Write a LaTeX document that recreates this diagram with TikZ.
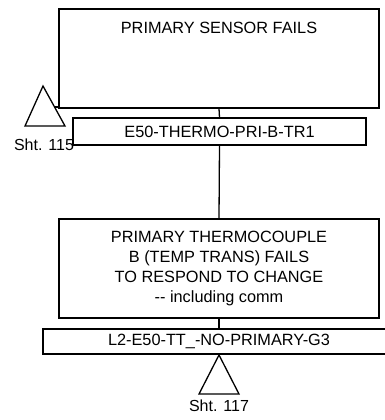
\documentclass[tikz,border=0pt]{standalone}
\usepackage{fontspec}
\setmainfont{Liberation Sans}
\begin{document}
\begin{tikzpicture}[x=1pt,y=-1pt,line width=1.3pt,
  box/.style={draw,rectangle,inner sep=0pt,fill=white},
  txt/.style={font=\fontsize{16.3}{20}\selectfont},
  small/.style={font=\fontsize{16}{18}\selectfont,inner sep=0pt}]
\useasboundingbox (0,0) rectangle (384,420);
% top event
\node[box,minimum width=320pt,minimum height=99pt] (top) at (219,58.5) {};
\node[txt,inner sep=0pt] (toptxt) at (219,28) {PRIMARY SENSOR FAILS};
% transfer triangle Sht. 115
\coordinate (t1a) at (43,86);
\coordinate (t1l) at (25,126);
\coordinate (t1r) at (65,126);
\draw (t1a) -- (t1r) -- (t1l) -- cycle;
\coordinate (t1c) at (54.5,107);
\draw (t1c) -- (top.west |- t1c);
\node[small] (s115) at (44,145) {Sht. 115};
% label 1
\node[box,txt,minimum width=293pt,minimum height=27pt] (lab1) at (219.5,131.5) {E50-THERMO-PRI-B-TR1};
\draw (top.south) -- (lab1.north);
% middle event
\node[box,txt,align=center,minimum width=320pt,minimum height=99pt] (mid) at (219,268.5)
  {PRIMARY THERMOCOUPLE\\B (TEMP TRANS) FAILS\\TO RESPOND TO CHANGE\\-{}- including comm};
\draw (lab1.south) -- (mid.north);
% label 2
\node[box,txt,minimum width=352pt,minimum height=25pt] (lab2) at (219,341.5) {L2-E50-TT\_-NO-PRIMARY-G3};
\draw (mid.south) -- (lab2.north);
% transfer triangle Sht. 117
\coordinate (t2a) at (219,355);
\coordinate (t2l) at (199,394);
\coordinate (t2r) at (239,394);
\draw (t2a) -- (t2r) -- (t2l) -- cycle;
\draw (lab2.south) -- (t2a);
\node[small] (s117) at (219,406) {Sht. 117};
\end{tikzpicture}
\end{document}
